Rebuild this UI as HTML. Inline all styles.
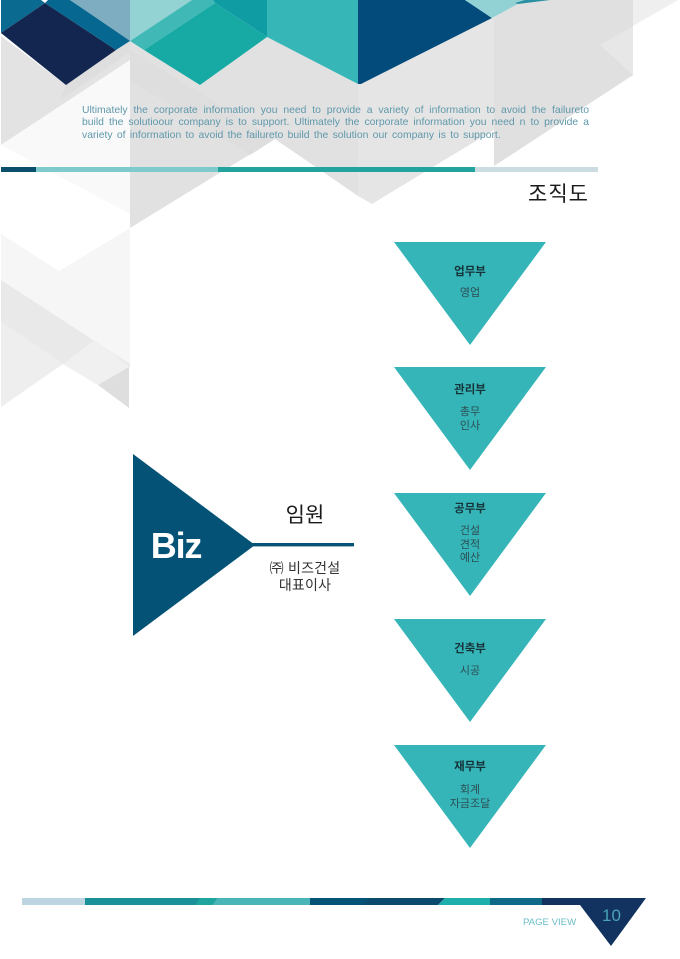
<!DOCTYPE html>
<html lang="ko">
<head>
<meta charset="utf-8">
<title>조직도</title>
<style>
html,body{margin:0;padding:0;background:#fff;}
#p{position:relative;width:680px;height:959px;overflow:hidden;background:#fff;font-family:"Liberation Sans","Noto Sans CJK KR",sans-serif;}
svg{position:absolute;left:0;top:0;}
.intro{position:absolute;left:82px;top:104.5px;width:507px;font-size:10.4px;line-height:12.5px;color:#5f98ab;text-align:justify;}
.intro div{text-align-last:justify;white-space:nowrap;}
.intro div.l{text-align-last:left;word-spacing:1.4px;}
.t{position:absolute;text-align:center;font-family:"Noto Sans CJK KR","Liberation Sans",sans-serif;color:#222;white-space:nowrap;}
.dh{left:394px;width:152px;font-size:11.5px;font-weight:700;line-height:14px;color:#15343a;}
.ds{left:394px;width:152px;font-size:11px;line-height:13.7px;color:#2b4f55;}
</style>
</head>
<body>
<div id="p">
<svg width="680" height="959" viewBox="0 0 680 959">
  <!-- grey background facets -->
  <polygon points="1,36 66,85 116,50 130,41 130,60 1,145" fill="#e3e3e3"/>
  <polygon points="1,145 130,60 130,214" fill="#f9f9f9"/>
  <polygon points="130,41 144,50 200,85 267,37 358,84 358,196 275,139 130,228" fill="#e1e1e1"/>
  <polygon points="358,84 361,84 492,18 520,0 633,0 633,75 494,166 494,130 372,204 358,196" fill="#e5e5e5"/>
  <polygon points="130,50 275,139 250,155 130,80" fill="#dedede"/>
  <polygon points="66,85 116,50 130,41 130,52 82,85 60,100" fill="#dcdcdc" opacity=".7"/>
  <polygon points="494,18 520,0 633,0 633,75 494,166" fill="#e0e0e0"/>
  <polygon points="633,0 678,0 633,26" fill="#efefef"/>
  <polygon points="600,45 633,26 633,75" fill="#e7e7e7"/>

  <!-- left lower facets -->
  <polygon points="1,234 59,271 130,228 130,364 1,282" fill="#f6f6f6"/>
  <polygon points="1,280 130,364 130,367 98,385 63,364 1,322" fill="#e9e9e9"/>
  <polygon points="1,322 63,364 1,407" fill="#eeeeee"/>
  <polygon points="63,364 98,385 130,367 95,340" fill="#f0f0f0"/>
  <polygon points="98,385 129,367 129,408" fill="#dedede"/>

  <!-- top colour facets -->
  <polygon points="1,0 41,0 45,3 1,33" fill="#0a6a90"/>
  <polygon points="1,33 45,3 116,50 66,85" fill="#12264f"/>
  <polygon points="48,0 70,0 130,40 130,41 116,50 45,3" fill="#066790"/>
  <polygon points="70,0 130,0 130,41" fill="#7eadc2"/>
  <polygon points="130,0 192,0 130,41" fill="#93d3d3"/>
  <polygon points="130,41 192,0 213,0 215,3 144,50" fill="#40b8b6"/>
  <polygon points="144,50 215,3 267,37 200,85" fill="#17aaa4"/>
  <polygon points="213,0 267,0 267,37 215,3" fill="#109ca3"/>
  <polygon points="267,0 358,0 358,84 267,37" fill="#37b6b8"/>
  <polygon points="358,0 465,0 492,18 361,84 358,84" fill="#034b7b"/>
  <polygon points="465,0 525,0 492,18" fill="#92d2d5"/>
  <polygon points="515,3 525,0 550,0 518,4" fill="#2a8fa3"/>

  <!-- top bar -->
  <rect x="1" y="167" width="35" height="5" fill="#0b4f6c"/>
  <rect x="36" y="167" width="182" height="5" fill="#7fcacb"/>
  <rect x="218" y="167" width="257" height="5" fill="#22a39f"/>
  <rect x="475" y="167" width="123" height="5" fill="#cbdde1"/>

  <!-- department triangles -->
  <polygon points="394,242 546,242 470,345" fill="#36b5b8"/>
  <polygon points="394,367 546,367 470,470" fill="#36b5b8"/>
  <polygon points="394,493 546,493 470,596" fill="#36b5b8"/>
  <polygon points="394,619 546,619 470,722" fill="#36b5b8"/>
  <polygon points="394,745 546,745 470,848" fill="#36b5b8"/>

  <!-- Biz -->
  <polygon points="133,454 255,545 133,636" fill="#045377"/>
  <rect x="250" y="543" width="104" height="3.4" fill="#045377"/>

  <!-- footer bar -->
  <rect x="22" y="898" width="63" height="7" fill="#bcd5e0"/>
  <rect x="85" y="898" width="130" height="7" fill="#1a9098"/>
  <polygon points="218,898 310,898 310,905 212,905" fill="#4ab5b8"/>
  <polygon points="200,898 218,898 212,905 195,905" fill="#1ea5a0"/>
  <rect x="310" y="898" width="60" height="7" fill="#045377"/>
  <polygon points="370,898 445,898 438,905 362,905" fill="#0b4a6c"/>
  <polygon points="445,898 490,898 490,905 438,905" fill="#1eaeac"/>
  <rect x="490" y="898" width="52" height="7" fill="#0e6a86"/>
  <rect x="542" y="898" width="60" height="7" fill="#12335f"/>
  <polygon points="580,905 575,898 646,898 611,946" fill="#12335f"/>
</svg>

<div class="intro">
  <div>Ultimately the corporate information you need to provide a variety of information to avoid the failureto</div>
  <div>build the solutioour company is to support. Ultimately the corporate information you need n to provide a</div>
  <div class="l">variety of information to avoid the failureto build the solution our company is to support.</div>
</div>

<div class="t" style="left:518px;width:81px;top:178px;font-size:21px;line-height:30px;letter-spacing:1px;color:#1a1a1a;">조직도</div>

<div class="t dh" style="top:264px;">업무부</div>
<div class="t ds" style="top:286px;">영업</div>
<div class="t dh" style="top:382px;">관리부</div>
<div class="t ds" style="top:405px;">총무<br>인사</div>
<div class="t dh" style="top:501px;">공무부</div>
<div class="t ds" style="top:524px;">건설<br>견적<br>예산</div>
<div class="t dh" style="top:641px;">건축부</div>
<div class="t ds" style="top:664px;">시공</div>
<div class="t dh" style="top:759px;">재무부</div>
<div class="t ds" style="top:783px;">회계<br>자금조달</div>

<div style="position:absolute;left:133px;width:86px;top:524px;text-align:center;font-size:36px;line-height:44px;font-weight:700;letter-spacing:-1.2px;color:#fff;font-family:'Liberation Sans',sans-serif;">Biz</div>
<div class="t" style="left:255px;width:100px;top:498px;font-size:21px;line-height:32px;color:#1a1a1a;">임원</div>
<div class="t" style="left:255px;width:100px;top:560px;font-size:14px;line-height:17px;letter-spacing:.2px;color:#333;">㈜ 비즈건설<br>대표이사</div>

<div style="position:absolute;left:523px;top:917px;font-size:9.6px;line-height:12px;color:#6bbcc6;font-family:'Liberation Sans',sans-serif;white-space:nowrap;">PAGE VIEW</div>
<div style="position:absolute;left:602px;top:906px;font-size:17px;line-height:20px;color:#4aa3b6;font-family:'Liberation Sans',sans-serif;">10</div>
</div>
</body>
</html>
